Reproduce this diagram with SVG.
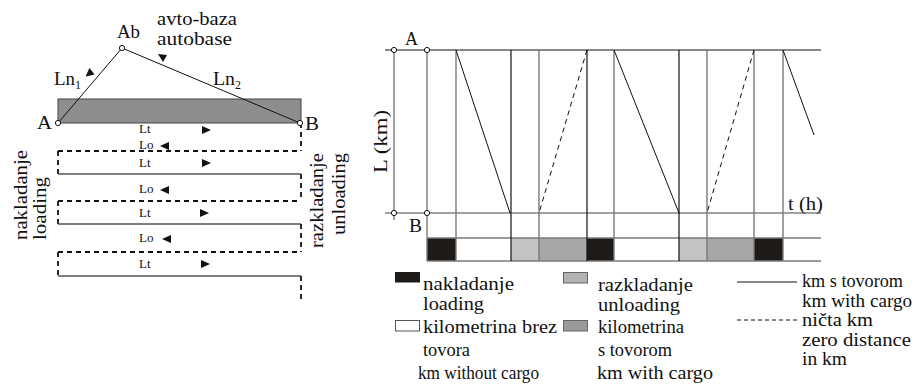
<svg xmlns="http://www.w3.org/2000/svg" width="921" height="385" viewBox="0 0 921 385" font-family="'Liberation Serif', 'DejaVu Serif', 'Times New Roman', serif">
<style>
text{font-family:"Liberation Serif","DejaVu Serif","Times New Roman",serif;fill:#111;}
.t18{font-size:18px;}
.t13{font-size:13px;}
.sub{font-size:12px;}
.thin{stroke:#111;stroke-width:1;fill:none;}
.gsol{stroke:#555;stroke-width:1.4;fill:none;}
.dsh{stroke:#111;stroke-width:1.8;stroke-dasharray:5 4;fill:none;}
.vg{stroke:#7a7a7a;stroke-width:1.4;}
.vb{stroke:#111;stroke-width:1.2;}
.ddiag{stroke:#111;stroke-width:1;stroke-dasharray:5 4;fill:none;}
.pt{fill:#fff;stroke:#111;stroke-width:1;}
.tri{fill:#111;}
</style>

<!-- LEFT DIAGRAM -->
<g id="road">
  <rect x="58" y="99" width="243" height="24" fill="#8e8e8e" stroke="#444" stroke-width="1"/>
</g>
<g id="connectors-left">
  <line class="thin" x1="58" y1="123" x2="122" y2="48"/>
  <line class="thin" x1="122" y1="48" x2="300" y2="123"/>
  <polygon class="tri" points="85.5,76.5 94.5,74.5 89.5,68"/>
  <polygon class="tri" points="158,54 167,55 163,62"/>
  <line class="dsh" x1="301" y1="123" x2="301" y2="151"/>
  <line class="dsh" x1="58" y1="151" x2="301" y2="151"/>
  <line class="dsh" x1="58" y1="151" x2="58" y2="174"/>
  <line class="gsol" x1="58" y1="174" x2="301" y2="174"/>
  <line class="dsh" x1="301" y1="174" x2="301" y2="201"/>
  <line class="dsh" x1="58" y1="201" x2="301" y2="201"/>
  <line class="dsh" x1="58" y1="201" x2="58" y2="224"/>
  <line class="gsol" x1="58" y1="224" x2="301" y2="224"/>
  <line class="dsh" x1="301" y1="224" x2="301" y2="252"/>
  <line class="dsh" x1="58" y1="252" x2="301" y2="252"/>
  <line class="dsh" x1="58" y1="252" x2="58" y2="276"/>
  <line class="gsol" x1="58" y1="276" x2="301" y2="276"/>
  <line class="dsh" x1="301" y1="276" x2="301" y2="303"/>
</g>
<g id="node-Ab">
  <circle class="pt" cx="122" cy="48" r="2.6"/>
  <text class="t18" x="117" y="38" textLength="23" lengthAdjust="spacingAndGlyphs">Ab</text>
  <text class="t18" x="157" y="25" textLength="80" lengthAdjust="spacingAndGlyphs">avto-baza</text>
  <text class="t18" x="157" y="45" textLength="75" lengthAdjust="spacingAndGlyphs">autobase</text>
</g>
<g id="node-A-left">
  <circle class="pt" cx="58" cy="123" r="2.6"/>
  <text class="t18" x="37" y="129" textLength="15" lengthAdjust="spacingAndGlyphs">A</text>
</g>
<g id="node-B-left">
  <circle class="pt" cx="300" cy="123" r="2.6"/>
  <text class="t18" x="305" y="130" textLength="14" lengthAdjust="spacingAndGlyphs">B</text>
</g>
<g id="labels-Ln">
  <text class="t18" x="54" y="85" textLength="21" lengthAdjust="spacingAndGlyphs">Ln</text>
  <text class="sub" x="75" y="89">1</text>
  <text class="t18" x="213" y="85" textLength="22" lengthAdjust="spacingAndGlyphs">Ln</text>
  <text class="sub" x="235" y="89">2</text>
</g>
<g id="labels-LtLo">
  <text class="t13" x="139" y="133">Lt</text>
  <polygon class="tri" points="202,126 211,130 202,134"/>
  <text class="t13" x="139" y="149">Lo</text>
  <polygon class="tri" points="160,146 169,142 169,150"/>
  <text class="t13" x="139" y="167">Lt</text>
  <polygon class="tri" points="202,159 211,163 202,167"/>
  <text class="t13" x="139" y="193">Lo</text>
  <polygon class="tri" points="160,190 169,186 169,194"/>
  <text class="t13" x="139" y="217">Lt</text>
  <polygon class="tri" points="200,209 209,213 200,217"/>
  <text class="t13" x="139" y="242">Lo</text>
  <polygon class="tri" points="162,239 171,235 171,243"/>
  <text class="t13" x="139" y="268">Lt</text>
  <polygon class="tri" points="201,260 210,264 201,268"/>
</g>
<g id="node-loading">
  <text class="t18" transform="translate(27,240) rotate(-90)" textLength="90" lengthAdjust="spacingAndGlyphs">nakladanje</text>
  <text class="t18" transform="translate(46,240) rotate(-90)" textLength="63" lengthAdjust="spacingAndGlyphs">loading</text>
</g>
<g id="node-unloading">
  <text class="t18" transform="translate(323,153) rotate(-90)" text-anchor="end" textLength="95" lengthAdjust="spacingAndGlyphs">razkladanje</text>
  <text class="t18" transform="translate(345,153) rotate(-90)" text-anchor="end" textLength="82" lengthAdjust="spacingAndGlyphs">unloading</text>
</g>

<!-- RIGHT CHART -->
<g id="time-bar">
  <rect x="427" y="238" width="29" height="23" fill="#1e1a18"/>
  <rect x="456" y="238" width="55" height="23" fill="#fff"/>
  <rect x="511" y="238" width="28" height="23" fill="#c3c3c3"/>
  <rect x="539" y="238" width="48" height="23" fill="#a7a7a7"/>
  <rect x="587" y="238" width="27" height="23" fill="#1e1a18"/>
  <rect x="614" y="238" width="65" height="23" fill="#fff"/>
  <rect x="679" y="238" width="28" height="23" fill="#c3c3c3"/>
  <rect x="707" y="238" width="47" height="23" fill="#a7a7a7"/>
  <rect x="754" y="238" width="29" height="23" fill="#1e1a18"/>
</g>
<g id="connectors-chart">
  <line class="thin" x1="385" y1="50" x2="821" y2="50"/>
  <line stroke="#444" stroke-width="1.2" x1="385" y1="213" x2="821" y2="213"/>
  <line class="vg" x1="427" y1="238" x2="821" y2="238"/>
  <line class="vg" x1="427" y1="261" x2="821" y2="261"/>
  <line class="vg" x1="394" y1="50" x2="394" y2="220"/>
  <line class="vg" x1="427" y1="50" x2="427" y2="261"/>
  <line class="vg" x1="456" y1="50" x2="456" y2="261"/>
  <line class="vb" x1="511" y1="50" x2="511" y2="261"/>
  <line class="vg" x1="539" y1="50" x2="539" y2="261"/>
  <line class="vb" x1="587" y1="50" x2="587" y2="261"/>
  <line class="vg" x1="614" y1="50" x2="614" y2="261"/>
  <line class="vb" x1="679" y1="50" x2="679" y2="261"/>
  <line class="vg" x1="707" y1="50" x2="707" y2="261"/>
  <line class="vg" x1="754" y1="50" x2="754" y2="261"/>
  <line class="vg" x1="783" y1="50" x2="783" y2="261"/>
  <line class="thin" x1="456" y1="50" x2="510" y2="213"/>
  <line class="ddiag" x1="587" y1="50" x2="539" y2="213"/>
  <line class="thin" x1="614" y1="50" x2="679" y2="213"/>
  <line class="ddiag" x1="754" y1="50" x2="707" y2="213"/>
  <line class="thin" x1="783" y1="50" x2="814" y2="135"/>
</g>
<g id="node-A-chart">
  <circle class="pt" cx="394" cy="50" r="2.6"/>
  <circle class="pt" cx="427" cy="50" r="2.6"/>
  <text class="t18" x="405" y="45" textLength="13" lengthAdjust="spacingAndGlyphs">A</text>
</g>
<g id="node-B-chart">
  <circle class="pt" cx="394" cy="213" r="2.6"/>
  <circle class="pt" cx="427" cy="213" r="2.6"/>
  <text class="t18" x="409" y="232" textLength="13" lengthAdjust="spacingAndGlyphs">B</text>
</g>
<g id="axis-labels">
  <text class="t18" transform="translate(387,141.5) rotate(-90)" text-anchor="middle" textLength="63" lengthAdjust="spacingAndGlyphs">L (km)</text>
  <text class="t18" x="788" y="210" textLength="35" lengthAdjust="spacingAndGlyphs">t (h)</text>
</g>

<!-- LEGEND -->
<g id="legend-loading">
  <rect x="395" y="272" width="25" height="10.5" fill="#1e1a18"/>
  <text class="t18" x="423" y="290" textLength="91" lengthAdjust="spacingAndGlyphs">nakladanje</text>
  <text class="t18" x="423" y="310" textLength="61" lengthAdjust="spacingAndGlyphs">loading</text>
</g>
<g id="legend-empty">
  <rect x="395.5" y="320.5" width="24" height="10.5" fill="#fff" stroke="#555" stroke-width="1"/>
  <text class="t18" x="423" y="333" textLength="134" lengthAdjust="spacingAndGlyphs">kilometrina brez</text>
  <text class="t18" x="423" y="356" textLength="47" lengthAdjust="spacingAndGlyphs">tovora</text>
  <text class="t18" x="418" y="379" textLength="121" lengthAdjust="spacingAndGlyphs">km without cargo</text>
</g>
<g id="legend-unloading">
  <rect x="563.5" y="272.5" width="24" height="10.5" fill="#b2b2b2" stroke="#666" stroke-width="1"/>
  <text class="t18" x="598" y="291" textLength="95" lengthAdjust="spacingAndGlyphs">razkladanje</text>
  <text class="t18" x="598" y="311" textLength="82" lengthAdjust="spacingAndGlyphs">unloading</text>
</g>
<g id="legend-cargo">
  <rect x="563.5" y="320.5" width="24" height="10.5" fill="#9a9a9a" stroke="#666" stroke-width="1"/>
  <text class="t18" x="598" y="333" textLength="86" lengthAdjust="spacingAndGlyphs">kilometrina</text>
  <text class="t18" x="598" y="356" textLength="74" lengthAdjust="spacingAndGlyphs">s tovorom</text>
  <text class="t18" x="597" y="379" textLength="116" lengthAdjust="spacingAndGlyphs">km with cargo</text>
</g>
<g id="legend-solid">
  <line class="thin" x1="737" y1="282" x2="797" y2="282"/>
  <text class="t18" x="802" y="287" textLength="101" lengthAdjust="spacingAndGlyphs">km s tovorom</text>
  <text class="t18" x="802" y="307" textLength="110" lengthAdjust="spacingAndGlyphs">km with cargo</text>
</g>
<g id="legend-dashed">
  <line class="thin" stroke-dasharray="4 3" x1="737" y1="320" x2="797" y2="320"/>
  <text class="t18" x="802" y="326" textLength="71" lengthAdjust="spacingAndGlyphs">ničta km</text>
  <text class="t18" x="802" y="346" textLength="109" lengthAdjust="spacingAndGlyphs">zero distance</text>
  <text class="t18" x="802" y="365" textLength="45" lengthAdjust="spacingAndGlyphs">in km</text>
</g>
</svg>
